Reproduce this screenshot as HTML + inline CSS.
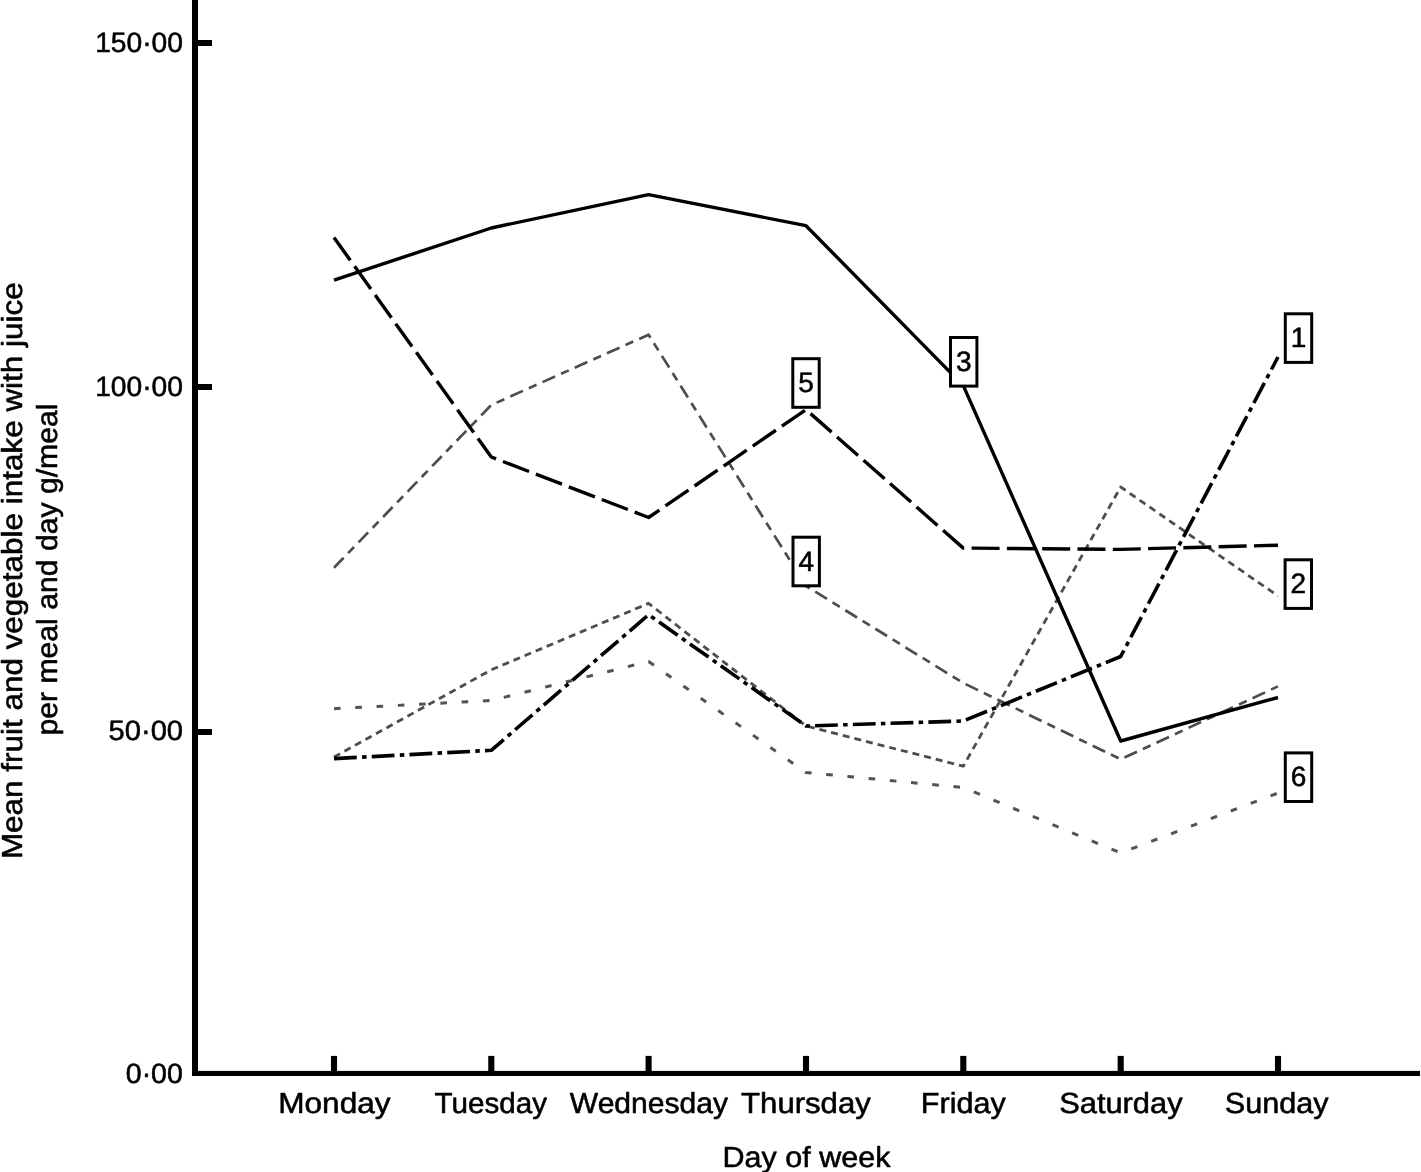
<!DOCTYPE html>
<html lang="en">
<head>
<meta charset="utf-8">
<title>Mean fruit and vegetable intake with juice per meal and day</title>
<style>
html,body{margin:0;padding:0;background:#fff;}
body{width:1421px;height:1172px;overflow:hidden;}
svg{display:block;will-change:transform;}
text{font-family:"Liberation Sans",sans-serif;fill:#000;stroke:#000;stroke-width:0.55px;stroke-linejoin:round;text-rendering:geometricPrecision;}
.t{font-size:28px;}
.l{font-size:29px;}
.b{font-size:28px;text-anchor:middle;}
</style>
</head>
<body>
<svg width="1421" height="1172" viewBox="0 0 1421 1172">
<rect x="0" y="0" width="1421" height="1172" fill="#fff"/>

<defs><filter id="soft" x="-2%" y="-2%" width="104%" height="104%"><feGaussianBlur stdDeviation="0.35"/></filter></defs>
<g fill="none" stroke-linejoin="round" stroke-linecap="butt" filter="url(#soft)">
<polyline points="334.0,708.7 491.3,700.5 648.6,661.5 806.0,772.5 963.3,787.5 1120.7,853.0 1278.0,793.0" stroke="#525252" stroke-width="3" stroke-dasharray="6.6 14.7"/>
<polyline points="334.0,757.0 491.3,669.8 648.6,603.4 806.0,726.0 963.3,766.2 1120.7,487.0 1278.0,596.0" stroke="#4d4d4d" stroke-width="2.8" stroke-dasharray="7 5"/>
<polyline points="334.0,567.7 491.3,405.0 648.6,334.7 806.0,586.0 963.3,683.0 1120.7,759.3 1278.0,686.4" stroke="#4d4d4d" stroke-width="2.7" stroke-dasharray="13.8 6.5 8.5 6.5"/>
<polyline points="334.0,758.6 491.3,750.3 648.6,614.7 806.0,726.0 963.3,721.0 1120.7,656.5 1278.0,357.0" stroke="#000" stroke-width="3.6" stroke-dasharray="22.8 5.3 4.5 5.2"/>
<polyline points="334.0,237.6 491.3,457.0 648.6,517.5 806.0,409.6 963.3,548.1 1120.7,549.4 1278.0,545.2" stroke="#000" stroke-width="3.4" stroke-dasharray="28 7.3"/>
<polyline points="334.0,280.1 491.3,228.0 648.6,194.6 806.0,225.7 963.3,385.6 1120.7,741.0 1278.0,697.5" stroke="#000" stroke-width="3.4"/>
</g>
<g fill="#000">
<rect x="192" y="0" width="6" height="1076"/>
<rect x="192" y="1070.9" width="1228" height="5.1"/>
<rect x="197" y="40.0" width="15" height="6"/>
<rect x="197" y="384.0" width="15" height="6"/>
<rect x="197" y="729.0" width="15" height="6"/>
<rect x="330.95" y="1055.9" width="6.1" height="16"/>
<rect x="488.25" y="1055.9" width="6.1" height="16"/>
<rect x="645.55" y="1055.9" width="6.1" height="16"/>
<rect x="802.95" y="1055.9" width="6.1" height="16"/>
<rect x="960.25" y="1055.9" width="6.1" height="16"/>
<rect x="1117.65" y="1055.9" width="6.1" height="16"/>
<rect x="1274.95" y="1055.9" width="6.1" height="16"/>
</g>
<text class="t" x="95.2" y="51.8" textLength="87.8" lengthAdjust="spacingAndGlyphs">150·00</text>
<text class="t" x="95.2" y="395.9" textLength="87.8" lengthAdjust="spacingAndGlyphs">100·00</text>
<text class="t" x="108.6" y="739.8" textLength="74.4" lengthAdjust="spacingAndGlyphs">50·00</text>
<text class="t" x="125.8" y="1083.3" textLength="57.0" lengthAdjust="spacingAndGlyphs">0·00</text>
<text class="l" x="278.2" y="1112.8" textLength="112.4" lengthAdjust="spacingAndGlyphs">Monday</text>
<text class="l" x="434.6" y="1112.8" textLength="112.4" lengthAdjust="spacingAndGlyphs">Tuesday</text>
<text class="l" x="569.8" y="1112.8" textLength="158.2" lengthAdjust="spacingAndGlyphs">Wednesday</text>
<text class="l" x="741.1" y="1112.8" textLength="129.7" lengthAdjust="spacingAndGlyphs">Thursday</text>
<text class="l" x="920.8" y="1112.8" textLength="85.0" lengthAdjust="spacingAndGlyphs">Friday</text>
<text class="l" x="1059.2" y="1112.8" textLength="123.4" lengthAdjust="spacingAndGlyphs">Saturday</text>
<text class="l" x="1224.8" y="1112.8" textLength="103.8" lengthAdjust="spacingAndGlyphs">Sunday</text>
<text class="l" x="722.6" y="1167" textLength="167.8" lengthAdjust="spacingAndGlyphs">Day of week</text>
<text class="l" transform="translate(22,859.1) rotate(-90)" textLength="576.8" lengthAdjust="spacingAndGlyphs">Mean fruit and vegetable intake with juice</text>
<text class="l" transform="translate(57,735.6) rotate(-90)" textLength="332.1" lengthAdjust="spacingAndGlyphs">per meal and day g/meal</text>
<rect x="792.8" y="358.7" width="26.4" height="48.6" fill="#fff" stroke="#000" stroke-width="3"/>
<text class="b" x="806.0" y="392.2">5</text>
<rect x="950.5" y="337.5" width="26.4" height="48.6" fill="#fff" stroke="#000" stroke-width="3"/>
<text class="b" x="963.7" y="371.0">3</text>
<rect x="793.0" y="537.2" width="26.4" height="48.6" fill="#fff" stroke="#000" stroke-width="3"/>
<text class="b" x="806.2" y="570.7">4</text>
<rect x="1285.3" y="313.8" width="26.4" height="48.6" fill="#fff" stroke="#000" stroke-width="3"/>
<text class="b" x="1298.5" y="347.3">1</text>
<rect x="1285.1" y="559.8" width="26.4" height="48.6" fill="#fff" stroke="#000" stroke-width="3"/>
<text class="b" x="1298.3" y="593.3">2</text>
<rect x="1285.3" y="752.9" width="26.4" height="48.6" fill="#fff" stroke="#000" stroke-width="3"/>
<text class="b" x="1298.5" y="786.4">6</text>
</svg>
</body>
</html>
